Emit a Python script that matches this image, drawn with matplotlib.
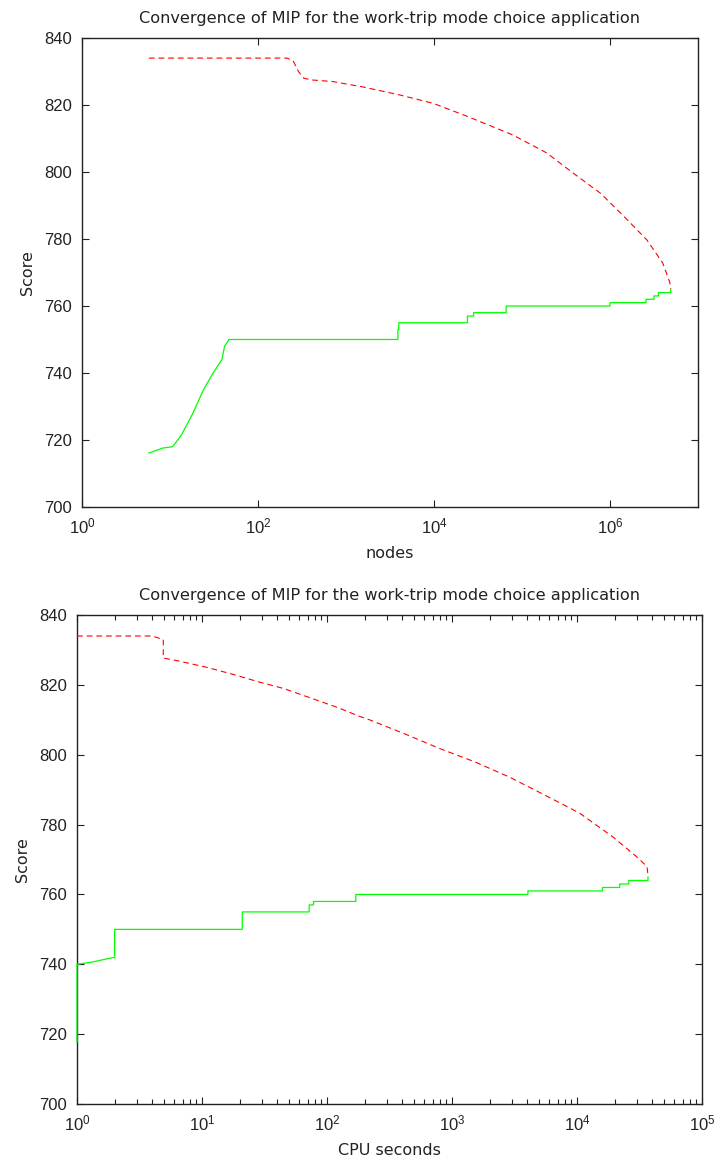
import numpy as np
import matplotlib
matplotlib.use("Agg")
import matplotlib.pyplot as plt
from matplotlib.ticker import LogLocator, NullLocator, LogFormatterSciNotation

plt.rcParams['font.family'] = ['Liberation Sans', 'DejaVu Sans']

title = "Convergence of MIP for the work-trip mode choice application"

# upper bound vs. nodes (red dashed)
ub_nodes = [5.75, 100, 214, 251, 288, 331, 398, 708, 1549, 4074, 9772, 23442,
            79433, 190546, 380189, 776247, 1.41e6, 2.63e6, 3.98e6, 4.79e6, 4.9e6]
ub_nodes_score = [834, 834, 834, 833.2, 830, 828, 827.5, 827, 825.4, 823, 820.5,
                  816.7, 811, 805.7, 799.7, 793.7, 787, 779.7, 772.8, 767, 765]

# incumbent vs. nodes (green)
lb_nodes = [5.75, 8.3, 10.7, 13.5, 18.2, 24, 30.9, 38.9, 41.7, 46.8,
            3890, 3890, 3980, 3980, 24000, 24000, 28200, 28200, 66000, 66000,
            1e6, 1e6, 2.57e6, 2.57e6, 3.16e6, 3.16e6, 3.55e6, 3.55e6, 4.9e6, 4.9e6]
lb_nodes_score = [716.1, 717.6, 718, 721.5, 728, 735, 740, 744, 748, 750,
                  750, 753, 753, 755, 755, 757, 757, 758, 758, 760,
                  760, 761, 761, 762, 762, 763, 763, 764, 764, 765]

# upper bound vs. CPU seconds (red dashed)
ub_cpu = [1, 4.0, 4.5, 4.9, 4.9, 6.6, 11, 17.8, 28.8, 44.7, 77.6, 120, 182, 219,
          417, 794, 1514, 2884, 5495, 10471, 19500, 30200, 36300, 37150]
ub_cpu_score = [834, 834, 833.4, 833, 827.7, 826.8, 825, 823, 820.8, 819, 816,
                813.6, 811, 810, 806, 801.8, 798, 793.6, 788.5, 783.3, 776.4,
                770.7, 768, 765]

# incumbent vs. CPU seconds (green)
lb_cpu = [1, 1, 1.3, 1.6, 2, 2, 21, 21, 72, 72, 78, 78, 170, 170, 4050, 4050,
          16000, 16000, 22000, 22000, 26000, 26000, 37000, 37000]
lb_cpu_score = [717.7, 740, 740.6, 741.3, 742, 750, 750, 755, 755, 757, 757, 758,
                758, 760, 760, 761, 761, 762, 762, 763, 763, 764, 764, 765]

yticks = [700, 720, 740, 760, 780, 800, 820, 840]

fig = plt.figure(figsize=(7.15, 11.62), dpi=100)
ax1 = fig.add_axes([0.1147, 0.5637, 0.8615, 0.4036])
ax2 = fig.add_axes([0.1077, 0.0499, 0.8741, 0.4208])

red_kw = dict(color='#ff0000', lw=0.8, dashes=(5.2, 3.5))
green_kw = dict(color='#00ff00', lw=0.9)
text_font = dict(family='DejaVu Sans', color='#222222')

ax1.plot(ub_nodes, ub_nodes_score, **red_kw)
ax1.plot(lb_nodes, lb_nodes_score, **green_kw)
ax2.plot(ub_cpu, ub_cpu_score, **red_kw, zorder=4)
ax2.plot(lb_cpu, lb_cpu_score, **green_kw, clip_on=False, zorder=4)

for ax in (ax1, ax2):
    ax.set_xscale('log')
    ax.set_ylim(700, 840)
    ax.set_yticks(yticks)
    ax.set_title(title, fontsize=11.6, pad=11, **text_font)
    ax.set_ylabel('Score', fontsize=11.5, labelpad=7, **text_font)
    ax.tick_params(which='both', direction='in', top=True, right=True,
                   labelsize=12, colors='#222222', pad=7)
    ax.tick_params(which='major', length=5, width=0.8)
    ax.tick_params(which='minor', length=3.5, width=0.8)
    for s in ax.spines.values():
        s.set_linewidth(1.0)
        s.set_color('#222222')

ax1.set_xlim(1, 1e7)
ax1.set_xticks([1, 1e2, 1e4, 1e6])
ax1.xaxis.set_major_formatter(LogFormatterSciNotation())
ax1.xaxis.set_minor_locator(NullLocator())
ax1.set_xlabel('nodes', fontsize=11.5, labelpad=7, **text_font)

ax2.set_xlim(1, 1e5)
ax2.xaxis.set_major_locator(LogLocator(base=10, numticks=10))
ax2.xaxis.set_minor_locator(LogLocator(base=10, subs=np.arange(2, 10), numticks=10))
ax2.set_xlabel('CPU seconds', fontsize=11.5, labelpad=7, **text_font)

fig.savefig('out.png', dpi=100)
